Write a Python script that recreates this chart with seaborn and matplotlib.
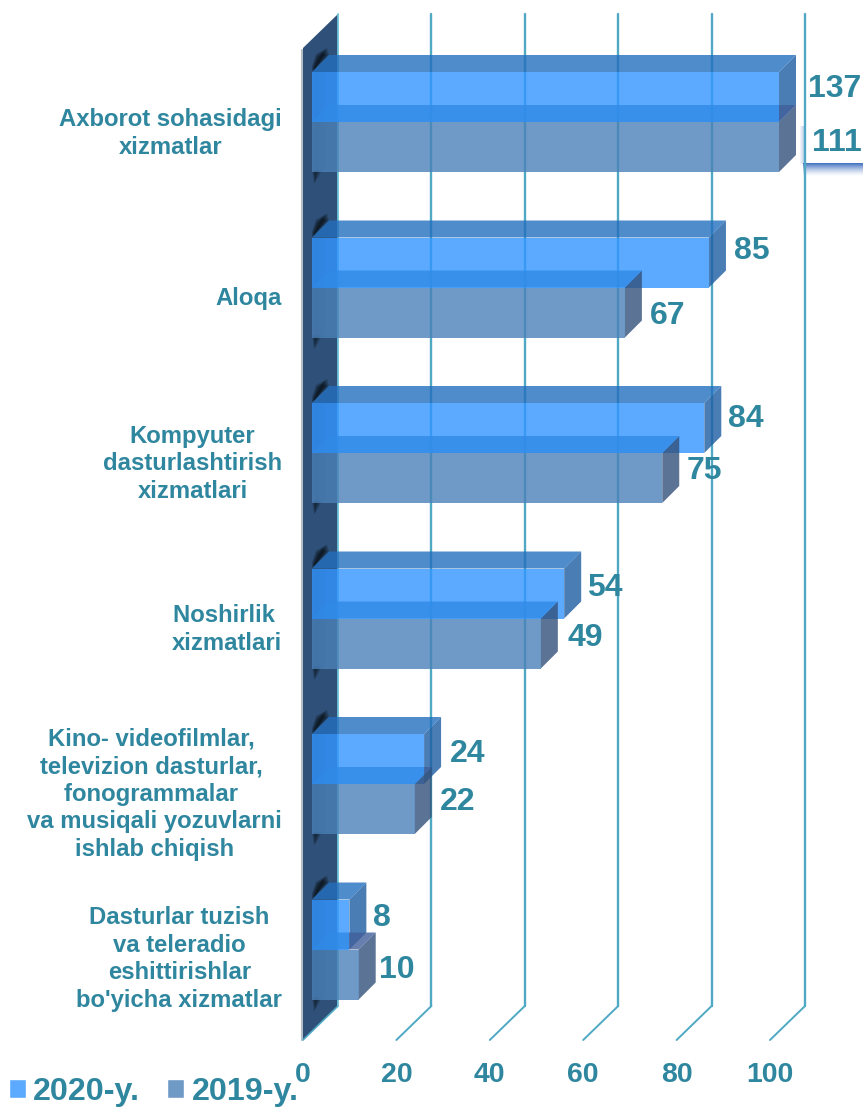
import matplotlib
matplotlib.use('Agg')
import matplotlib.pyplot as plt
from matplotlib.patches import Polygon, Rectangle, Patch
from matplotlib.transforms import ScaledTranslation
import pandas as pd
import seaborn as sns

# data (axis stops at 100, the two long bars are cut off there)
categories = [
    'Axborot sohasidagi\nxizmatlar',
    'Aloqa',
    'Kompyuter\ndasturlashtirish\nxizmatlari',
    'Noshirlik \nxizmatlari',
    'Kino- videofilmlar, \ntelevizion dasturlar, \nfonogrammalar \nva musiqali yozuvlarni\nishlab chiqish',
    "Dasturlar tuzish\nva teleradio\neshittirishlar\nbo'yicha xizmatlar",
]
values_2020 = [137, 85, 84, 54, 24, 8]
values_2019 = [111, 67, 75, 49, 22, 10]
series_names = ['2020-y.', '2019-y.']
x_ticks = [0, 20, 40, 60, 80, 100]

# label nudges in pixels, they are not regular in the original
nudge_x = {'2020-y.': [12, 8, 7, 6, 9, 7], '2019-y.': [16, 8, 7, 10, 8, 3]}
nudge_y = {'2020-y.': [-8, -12, -9, -6, -5, -6], '2019-y.': [-4, 3, -7, -5, -7, -4]}
label_shift = [6.5, 8, 6, 6, 5.5, 4.5]

W, H = 863, 1108
AX_L, AX_R, AX_T, AX_B = 312, 779, 48, 1040
PX_X = (AX_R - AX_L) / 100
ROW0, ROW_STEP = 122, 165.5
DEPTH = 17

TEAL = '#2F869F'
GRID = '#4FA9C4'
WALL = '#2F5078'

# pixel <-> data helpers, axes are laid out in image pixels
def dx(px):
    return px / PX_X

def dy(px):
    return px / ROW_STEP

def xd(px):
    return (px - AX_L) / PX_X

def yd(px):
    return (px - ROW0) / ROW_STEP


sns.set_theme(style='white')
plt.rcParams['font.family'] = ['Liberation Sans', 'DejaVu Sans']

df = pd.DataFrame({
    'kategoriya': categories * 2,
    'qiymat': values_2020 + values_2019,
    'yil': [series_names[0]] * len(categories) + [series_names[1]] * len(categories),
})

fig = plt.figure(figsize=(W / 100, H / 100), dpi=100, facecolor='white')
ax = fig.add_axes([AX_L / W, 1 - AX_B / H, (AX_R - AX_L) / W, (AX_B - AX_T) / H])
ax.patch.set_alpha(0)

sns.barplot(data=df, x='qiymat', y='kategoriya', hue='yil', orient='h', dodge=True,
            width=100 / ROW_STEP, gap=0, saturation=1, alpha=0.8, legend=False, linewidth=0,
            palette={series_names[0]: (50 / 255, 149 / 255, 1.0),
                     series_names[1]: (75 / 255, 129 / 255, 185 / 255)},
            ax=ax)

ax.set_xlim(0, 100)
ax.set_ylim(yd(AX_B), yd(AX_T))
ax.set_xlabel('')
ax.set_ylabel('')
sns.despine(ax=ax, left=True, bottom=True)


def poly(pts, color, z, alpha=0.8):
    p = Polygon([(xd(a), yd(b)) for a, b in pts], closed=True, facecolor=color, edgecolor='none',
                alpha=alpha, zorder=z, clip_on=False, lw=0)
    ax.add_patch(p)
    return p


# back wall
poly([(303, 48), (338, 14), (338, 1006), (303, 1040)], WALL, 0.5, alpha=1)
ax.plot([xd(302)] * 2, [yd(50), yd(1040)], color='#B4BCC4', lw=1.5, clip_on=False, zorder=0.4)
ax.plot([xd(303), xd(338)], [yd(1040), yd(1006)], color=GRID, lw=1.2, clip_on=False, zorder=0.6)

# soft dark shadows on the wall behind each pair of bars
for i in range(len(categories)):
    c = ROW0 + ROW_STEP * i
    for k in range(6):
        # streak along the lid's left edge
        poly([(312 + k / 2, c - 50 - k / 2), (329 - k, c - 67), (327 - k, c - 74 + k), (316 + k / 2, c - 68 + k),
              (312 + k / 2, c - 56 + k / 2)], 'black', 0.7, alpha=0.16)
        # spot below the bar
        poly([(312 + k / 2, c + 48), (322 - k, c + 48), (318 - k / 2, c + 56 - k / 2), (314 + k / 3, c + 62 - k)],
             'black', 0.7, alpha=0.11)
        # faint column behind the bars
        poly([(312 + k, c - 50), (326 - 2 * k, c - 50), (326 - 2 * k, c + 50), (312 + k, c + 50)],
             'black', 0.7, alpha=0.04)

# gridlines on the back plane and the floor
for t in x_ticks:
    xb = AX_L + 26 + t * PX_X
    if t > 0:
        ax.plot([xd(xb)] * 2, [yd(14), yd(1006)], color=GRID, lw=1.7, clip_on=False, zorder=1)
        ax.plot([xd(xb), xd(xb - 35)], [yd(1006), yd(1040)], color=GRID, lw=1.4, clip_on=False, zorder=1)
    else:
        ax.plot([xd(xb)] * 2, [yd(14), yd(1006)], color='#6CC0D8', lw=1.3, clip_on=False, zorder=1)

# white box with blue shadow behind the 111 label
for k in range(13):
    ax.add_patch(Rectangle((xd(803), yd(163 + k)), dx(70), dy(1), facecolor='#3C6EBE',
                           alpha=0.95 * (1 - k / 13) ** 1.5, edgecolor='none', lw=0, clip_on=False, zorder=0.9))
for k in range(4):
    ax.add_patch(Rectangle((xd(800 + k), yd(126)), dx(1), dy(38), facecolor='#3C6EBE',
                           alpha=0.08 + 0.07 * k, edgecolor='none', lw=0, clip_on=False, zorder=0.9))

# depth faces, taken from the bars seaborn drew
colors_top = {0: (35 / 255, 111 / 255, 190 / 255)}
colors_side = {0: (30 / 255, 92 / 255, 163 / 255), 1: (50 / 255, 80 / 255, 121 / 255)}
top_over = (48 / 255, 138 / 255, 230 / 255)
top_clear = (64 / 255, 95 / 255, 155 / 255)

for s, cont in enumerate(ax.containers):
    for i, bar in enumerate(cont):
        bar.set_zorder(2.5 + s)
        end = min(bar.get_width(), 100)
        x1 = AX_L + end * PX_X
        y0 = ROW0 + (bar.get_y() * ROW_STEP)
        y1 = ROW0 + ((bar.get_y() + bar.get_height()) * ROW_STEP)
        top = [(AX_L, y0), (AX_L + DEPTH, y0 - DEPTH), (x1 + DEPTH, y0 - DEPTH), (x1, y0)]
        side = [(x1, y0), (x1 + DEPTH, y0 - DEPTH), (x1 + DEPTH, y1 - DEPTH), (x1, y1)]
        poly(side, colors_side[s], 2 + s)
        if s == 0:
            poly(top, colors_top[0], 2)
        else:
            # the lower bar's lid looks different where it lies on the upper bar
            other = min(ax.containers[0][i].get_width(), 100)
            over = poly(top, top_over, 3)
            clear = poly(top, top_clear, 3)
            over.set_clip_on(True)
            clear.set_clip_on(True)
            over.set_clip_path(Rectangle((xd(AX_L - 5), yd(y0 - DEPTH - 2)), dx(other * PX_X + 5),
                                         dy(DEPTH + 2), transform=ax.transData))
            clear.set_clip_path(Rectangle((other, yd(y0 - DEPTH - 2)), dx(200), dy(DEPTH + 2),
                                          transform=ax.transData))

        name = series_names[s]
        ax.text(xd(x1 + DEPTH + nudge_x[name][i]), yd((y0 + y1) / 2 + nudge_y[name][i]),
                str(int(bar.get_width())), color=TEAL, fontsize=23, fontweight='bold',
                ha='left', va='center', clip_on=False, zorder=6)

# axis labels
ax.set_xticks(x_ticks)
ax.set_xticklabels([str(t) for t in x_ticks])
ax.tick_params(axis='x', length=0, pad=16, labelsize=20.5, labelcolor=TEAL)
ax.tick_params(axis='y', length=0, pad=21.5, labelsize=17.2, labelcolor=TEAL)
for lab in ax.get_xticklabels():
    lab.set_fontweight('bold')
    lab.set_transform(lab.get_transform() + ScaledTranslation(-9 / 100, 0, fig.dpi_scale_trans))
for lab, shift in zip(ax.get_yticklabels(), label_shift):
    lab.set_fontweight('bold')
    lab.set_multialignment('center')
    lab.set_linespacing(1.25)
    lab.set_transform(lab.get_transform() + ScaledTranslation(0, -shift / 100, fig.dpi_scale_trans))

handles = [Patch(facecolor='#5BAAFF'), Patch(facecolor='#6F9AC6')]
fig.legend(handles, series_names, ncol=2, frameon=False, loc='lower left',
           bbox_to_anchor=(-1 / W, -9 / H), prop={'size': 23.2, 'weight': 'bold'}, labelcolor=TEAL,
           handlelength=0.53, handleheight=0.53, handletextpad=0.22, columnspacing=0.85, borderpad=0.3,
           borderaxespad=0)

plt.savefig('out.png', dpi=100)
